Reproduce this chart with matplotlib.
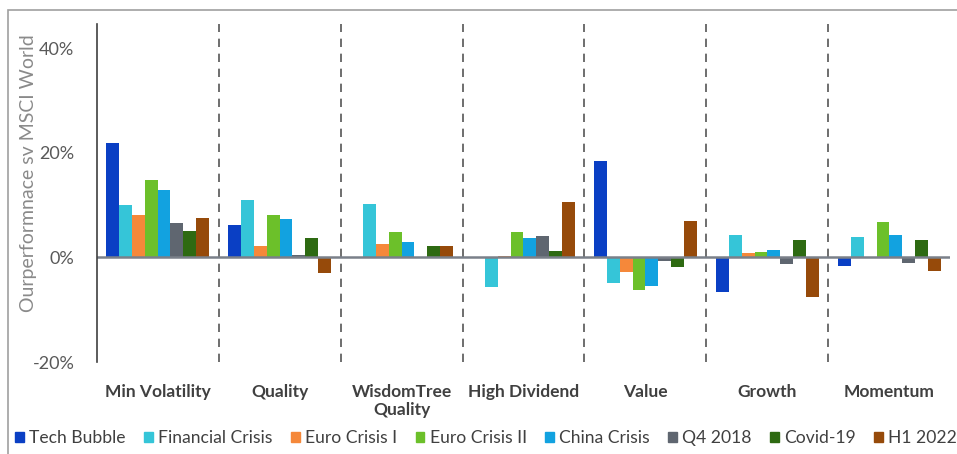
import matplotlib.pyplot as plt
import matplotlib.patches as mpatches
import numpy as np

categories = ["Min Volatility", "Quality", "WisdomTree\nQuality", "High Dividend",
              "Value", "Growth", "Momentum"]
series = ["Tech Bubble", "Financial Crisis", "Euro Crisis I", "Euro Crisis II",
          "China Crisis", "Q4 2018", "Covid-19", "H1 2022"]

tech_bubble = [21.8, 6.2, 0.0, 0.0, 18.4, -6.7, -1.6]
financial_crisis = [10.1, 11.0, 10.3, -5.7, -4.8, 4.2, 3.9]
euro_crisis_1 = [8.2, 2.1, 2.5, 0.2, -2.8, 0.8, 0.0]
euro_crisis_2 = [14.9, 8.1, 4.8, 4.9, -6.2, 1.0, 6.8]
china_crisis = [12.9, 7.3, 2.9, 3.8, -5.5, 1.4, 4.2]
q4_2018 = [6.6, 0.5, 0.0, 4.1, -0.7, -1.3, -1.0]
covid_19 = [5.1, 3.7, 2.2, 1.3, -1.8, 3.3, 3.3]
h1_2022 = [7.5, -2.9, 2.2, 10.6, 7.0, -7.5, -2.5]

values = [tech_bubble, financial_crisis, euro_crisis_1, euro_crisis_2,
          china_crisis, q4_2018, covid_19, h1_2022]
colors = ["#0a3fc4", "#35c5d8", "#f5883a", "#6cc02a",
          "#12a2e0", "#5f6670", "#2e6a12", "#964a0a"]

plt.rcParams["font.family"] = ["Lato", "DejaVu Sans"]

fig = plt.figure(figsize=(9.57, 4.54), dpi=100)
ax = fig.add_axes([0.101, 0.2026, 0.892, 0.744])

# grouped bars
x = np.arange(len(categories))
width = 0.105
for i, (name, vals) in enumerate(zip(series, values)):
    offset = (i - 3.5) * width
    ax.bar(x + offset, vals, width=width, color=colors[i], label=name)

# separators between groups
for b in x[:-1] + 0.5:
    ax.axvline(b, color="#555555", linestyle=(0, (5, 4)), linewidth=1.2)

ax.axhline(0, color="#7a8089", linewidth=1.8)

ax.set_xlim(-0.5, 6.5)
ax.set_ylim(-20, 44.6)
ax.set_yticks([-20, 0, 20, 40])
ax.set_yticklabels(["-20%", "0%", "20%", "40%"], color="#595959", fontsize=13)
ax.tick_params(axis="y", length=0, pad=16)
ax.set_xticks(x)
ax.set_xticklabels(categories, fontsize=12.5, fontweight="bold", color="#404040",
                   linespacing=1.15)
ax.tick_params(axis="x", length=0, pad=16)

for s in ["top", "right", "bottom"]:
    ax.spines[s].set_visible(False)
ax.spines["left"].set_color("#404040")
ax.spines["left"].set_linewidth(1.2)

ax.set_ylabel("Ourperformnace sv MSCI World", color="#8a8a8a", fontsize=14)
ax.yaxis.set_label_coords(-0.07, 0.56)

# outer frame
fig.patches.append(mpatches.Rectangle((0.008, -0.01), 1.0, 0.988, transform=fig.transFigure,
                                      fill=False, edgecolor="#a0a0a0", linewidth=1.2))

handles = [mpatches.Patch(color=c) for c in colors]
fig.legend(handles, series, loc="center", bbox_to_anchor=(0.508, 0.035), ncol=8,
           frameon=False, fontsize=12.6, handlelength=0.5, handleheight=0.5,
           handletextpad=0.3, columnspacing=1.05, labelcolor="#404040")

fig.savefig("out.png", dpi=100)
